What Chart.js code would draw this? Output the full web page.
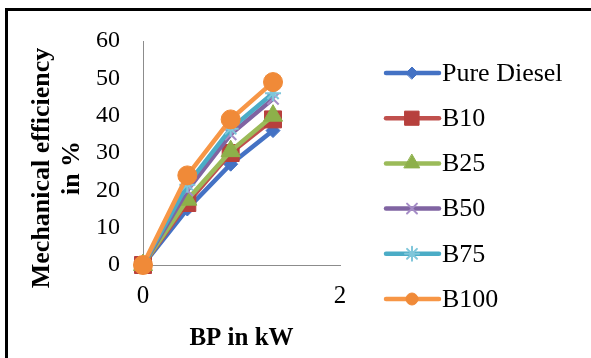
<!DOCTYPE html>
<html lang="en">
<head>
<meta charset="UTF-8" />
<title>Mechanical efficiency vs BP</title>
<script src="https://cdn.jsdelivr.net/npm/chart.js@4.4.0/dist/chart.umd.min.js"></script>
<style>
  body { margin: 0; background: #fff; overflow: hidden; }
  #frame { position: absolute; left: 5px; top: 8px; width: 700px; height: 500px; border-left: 3px solid #000; border-top: 3px solid #000; }
  #wrap { position: absolute; left: 0; top: 0; width: 591px; height: 358px; }
</style>
</head>
<body>
<div id="frame"></div>
<div id="wrap"><canvas id="effChart" width="591" height="358"></canvas></div>
<script>
// brake power (kW) at each load step
const bp = [0, 0.45, 0.89, 1.32];

const seriesNames = ['Pure Diesel', 'B10', 'B25', 'B50', 'B75', 'B100'];
const pureDiesel = [0, 15, 27, 36];
const b10 = [0, 16.6, 30, 39];
const b25 = [0, 17.5, 30.5, 40];
const b50 = [0, 20, 35, 44.5];
const b75 = [0, 21.5, 36.5, 46];
const b100 = [0, 24, 39, 49];

const yTicks = [0, 10, 20, 30, 40, 50, 60];
const xTicks = [0, 2];

const allValues = [pureDiesel, b10, b25, b50, b75, b100];
const colors = ['#4472C4', '#C0504D', '#9BBB59', '#8064A2', '#4BACC6', '#F79646'];
const markerColors = ['#4472C4', '#B7403D', '#8DB04A', '#A58CC6', '#7FC6DA', '#F08A38'];
const markers = ['rectRot', 'rect', 'triangle', 'crossRot', 'star', 'circle'];
const markerSize = [7, 12, 11, 8, 8, 9.5];
const legendSize = [6, 10, 9, 7, 7, 6];

const serif = '"Liberation Serif", "Times New Roman", serif';

const datasets = seriesNames.map((name, i) => ({
  label: name,
  data: bp.map((x, j) => ({ x: x, y: allValues[i][j] })),
  borderColor: colors[i],
  backgroundColor: markerColors[i],
  borderWidth: 4.5,
  pointStyle: markers[i],
  pointRadius: markerSize[i],
  pointBorderColor: markerColors[i],
  pointBackgroundColor: markerColors[i],
  pointBorderWidth: (markers[i] === 'crossRot' || markers[i] === 'star') ? 2 : 1,
  tension: 0,
  clip: false,
  order: seriesNames.length - i
}));

// y title + hand-made legend (line with marker, like the spreadsheet one)
const extras = {
  id: 'extras',
  afterDraw(chart) {
    const ctx = chart.ctx;
    ctx.save();
    ctx.fillStyle = '#000';
    ctx.font = 'bold 26px ' + serif;
    ctx.textAlign = 'center';
    ctx.textBaseline = 'middle';
    ctx.translate(42, 168);
    ctx.rotate(-Math.PI / 2);
    ctx.fillText('Mechanical efficiency', 0, 0);
    ctx.fillText('in %', 0, 30);
    ctx.restore();

    ctx.save();
    chart.data.datasets.forEach((ds, i) => {
      const y = 73 + i * 45.2;
      ctx.strokeStyle = ds.borderColor;
      ctx.lineWidth = 4.5;
      ctx.lineCap = 'round';
      ctx.beginPath();
      ctx.moveTo(386, y);
      ctx.lineTo(439, y);
      ctx.stroke();
      ctx.fillStyle = ds.pointBackgroundColor;
      ctx.strokeStyle = ds.pointBorderColor;
      ctx.lineWidth = ds.pointBorderWidth;
      Chart.helpers.drawPoint(ctx, { pointStyle: ds.pointStyle, radius: legendSize[i], borderWidth: ds.pointBorderWidth, rotation: 0 }, 412, y);
      ctx.fillStyle = '#000';
      ctx.font = '26px ' + serif;
      ctx.textAlign = 'left';
      ctx.textBaseline = 'middle';
      ctx.fillText(ds.label, 442, y + 1);
    });
    ctx.restore();
  }
};

new Chart(document.getElementById('effChart'), {
  type: 'line',
  data: { datasets: datasets },
  options: {
    responsive: false,
    animation: false,
    layout: { padding: { left: 0, top: 41, right: 251, bottom: 0 } },
    plugins: { legend: { display: false }, tooltip: { enabled: false } },
    scales: {
      x: {
        type: 'linear',
        min: 0,
        max: 2,
        afterBuildTicks: (s) => { s.ticks = xTicks.map(v => ({ value: v })); },
        afterFit: (s) => { s.height = 93; },
        grid: { display: false },
        border: { display: true, color: '#8c8c8c', width: 1 },
        ticks: { color: '#000', font: { family: serif, size: 25 }, padding: 8, maxRotation: 0 },
        title: { display: true, text: 'BP in kW', color: '#000', font: { family: serif, size: 25, weight: 'bold' }, padding: { top: 4, bottom: 4 } }
      },
      y: {
        min: 0,
        max: 60,
        afterBuildTicks: (s) => { s.ticks = yTicks.map(v => ({ value: v })); },
        afterFit: (s) => { s.width = 143; },
        grid: { display: false },
        border: { display: true, color: '#8c8c8c', width: 1 },
        ticks: { color: '#000', font: { family: serif, size: 24 }, padding: 15 }
      }
    }
  },
  plugins: [extras]
});
</script>
</body>
</html>
